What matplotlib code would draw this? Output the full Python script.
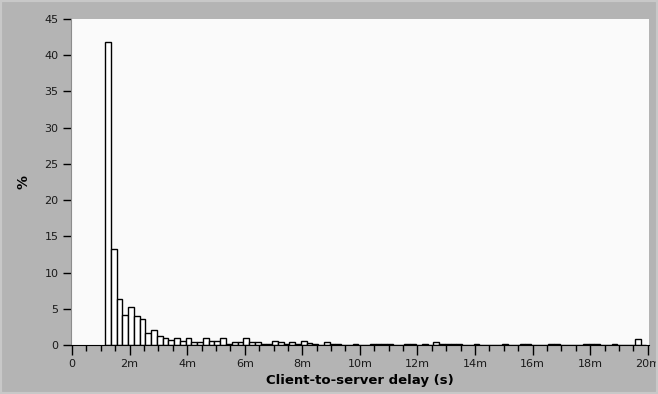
import matplotlib.pyplot as plt
from matplotlib.patches import Rectangle
from matplotlib.ticker import MultipleLocator

# histogram bins of 0.2 ms, starting at 1.15 ms
bin_start = 1.15
bin_width = 0.2
pct = [
    41.8, 13.2, 6.4, 4.2, 5.2, 4.0, 3.6, 1.7, 2.1, 1.2,
    1.0, 0.7, 0.9, 0.6, 1.0, 0.4, 0.4, 0.9, 0.5, 0.5,
    1.0, 0.2, 0.4, 0.4, 0.9, 0.4, 0.4, 0.2, 0.2, 0.6,
    0.4, 0.2, 0.4, 0.2, 0.5, 0.3, 0.2, 0.0, 0.4, 0.2,
    0.2, 0.0, 0.0, 0.2, 0.0, 0.0, 0.2, 0.2, 0.2, 0.2,
    0.0, 0.0, 0.2, 0.2, 0.0, 0.2, 0.0, 0.4, 0.2, 0.2,
    0.2, 0.2, 0.0, 0.0, 0.2, 0.0, 0.0, 0.0, 0.0, 0.2,
    0.0, 0.0, 0.2, 0.2, 0.0, 0.0, 0.0, 0.2, 0.2, 0.0,
    0.0, 0.0, 0.0, 0.2, 0.2, 0.2, 0.0, 0.0, 0.2, 0.0,
    0.0, 0.0, 0.8, 0.0,
]
xticks = [0, 2, 4, 6, 8, 10, 12, 14, 16, 18, 20]
xtick_labels = ["0"] + [f"{v}m" for v in xticks[1:]]
yticks = [0, 5, 10, 15, 20, 25, 30, 35, 40, 45]

W, H = 658, 394
fig = plt.figure(figsize=(W / 100, H / 100), dpi=100)
fig.patch.set_facecolor("#b4b4b4")
# light frame around the panel
fig.patches.append(Rectangle((0, 0), 1, 1, transform=fig.transFigure,
                             fill=False, edgecolor="#c8c8c8", linewidth=3))

ax = fig.add_axes([71 / W, (H - 345) / H, (649 - 71) / W, (345 - 19) / H])
ax.set_facecolor("#fafafa")

lefts = [bin_start + i * bin_width for i in range(len(pct))]
ax.bar(lefts, pct, width=bin_width, align="edge", color="white",
       edgecolor="black", linewidth=1.0)

ax.set_xlim(-0.035, 20.045)
ax.set_ylim(0, 45)

ax.set_xticks(xticks)
ax.set_xticklabels(xtick_labels)
ax.xaxis.set_minor_locator(MultipleLocator(0.5))
ax.set_yticks(yticks)

for s in ["top", "right"]:
    ax.spines[s].set_visible(False)
ax.spines["left"].set_color("#8c8c8c")
ax.spines["bottom"].set_color("black")

ax.tick_params(axis="x", which="major", direction="out", length=7,
               width=1, pad=3, labelsize=8, colors="black")
ax.tick_params(axis="x", which="minor", direction="out", length=4,
               width=1, colors="black")
ax.tick_params(axis="y", direction="out", length=6, width=1, pad=3,
               labelsize=8, colors="black")
for lab in ax.get_xticklabels() + ax.get_yticklabels():
    lab.set_color("#1a1a1a")

ax.set_xlabel("Client-to-server delay (s)", fontsize=9.5, fontweight="bold",
              labelpad=4)
ax.set_ylabel("%", fontsize=10, fontweight="bold", labelpad=10)

fig.savefig("out.png", dpi=100, facecolor=fig.get_facecolor())
